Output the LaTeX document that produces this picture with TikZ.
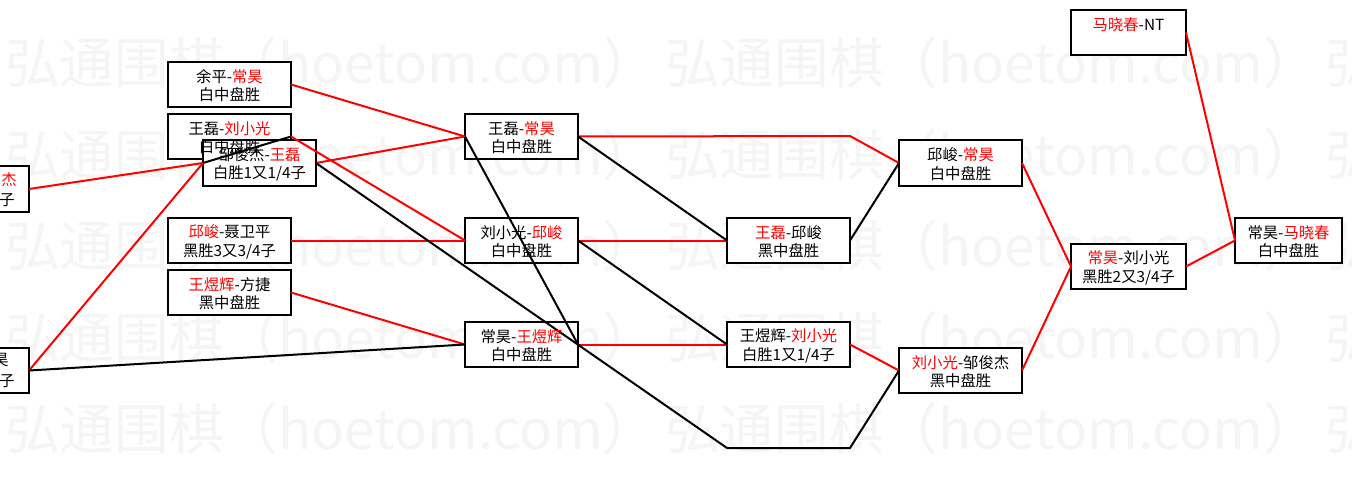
\documentclass[tikz,border=0pt]{standalone}
\usepackage{fontspec}
\newfontfamily\cjk{Noto Sans CJK SC}
\newcommand\rd[1]{\textcolor{red}{#1}}
\newcommand\mkbox[5]{%
  \pgfmathsetmacro\mybw{((#4)-(#2))*0.75}%
  \pgfmathsetmacro\mybh{((#5)-(#3))*0.75}%
  \node[box, minimum width=\mybw pt, minimum height=\mybh pt] (#1) at ({((#2)+(#4))/2},{((#3)+(#5))/2}) {};}
\begin{document}
\begin{tikzpicture}[x=0.75pt,y=-0.75pt,
  box/.style={draw=black, fill=white, line width=2.2pt, inner sep=0pt, outer sep=0pt},
  lbl/.style={font=\cjk\fontsize{11.5}{13.9}\selectfont, align=center, inner sep=0pt, text=black},
  wm/.style={font=\cjk\fontsize{41}{41}\selectfont, text=black!4, inner sep=0pt, anchor=west},
  redln/.style={draw=red, line width=1.5pt},
  blkln/.style={draw=black, line width=1.5pt}]
\useasboundingbox (0,0) rectangle (1352,481);
\clip (0,0) rectangle (1352,481);
\fill[white] (0,0) rectangle (1352,481);
% watermark
\foreach \r in {0,...,4}{
  \foreach \c in {0,1,2}{
    \node[wm] (wm-\r-\c) at ({5+660*\c},{63+91.5*\r}) {弘通围棋（hoetom.com）};
  }
}
% boxes
\mkbox{tl}{-100}{166}{29}{212}
\mkbox{b1}{168}{62}{291}{107}
\mkbox{b2}{168}{114}{291}{159}
\mkbox{b3}{203}{140}{316}{186}
\mkbox{bl}{-100}{348}{29}{393}
\mkbox{b4}{168}{218}{291}{263}
\mkbox{b5}{168}{270}{291}{315}
\mkbox{m1}{465}{114}{578}{159}
\mkbox{m2}{465}{218}{578}{263}
\mkbox{m3}{465}{322}{578}{367}
\mkbox{n1}{727}{218}{850}{263}
\mkbox{n2}{727}{322}{850}{367}
\mkbox{q1}{899}{140}{1022}{186}
\mkbox{q2}{899}{348}{1022}{393}
\mkbox{f1}{1071}{244}{1186}{289}
\mkbox{ma}{1071}{10}{1186}{55}
\mkbox{fin}{1235}{218}{1342}{263}
\coordinate (c1) at (850,136);
\coordinate (c2) at (727,448);
\coordinate (c3) at (850,448);
% red connectors
\draw[redln] (b1.east) -- (m1.west);
\draw[redln] (tl.east) -- (b3.west);
\draw[redln] (b3.east) -- (m1.west);
\draw[redln] (bl.east) -- (b3.west);
\draw[redln] (b4.east) -- (m2.west);
\draw[redln] (b2.east) -- (m2.west);
\draw[redln] (b5.east) -- (m3.west);
\draw[redln] (m1.east) -- (c1) -- (q1.west);
\draw[redln] (m2.east) -- (n1.west);
\draw[redln] (m3.east) -- (n2.west);
\draw[redln] (n2.east) -- (q2.west);
\draw[redln] (q1.east) -- (f1.west);
\draw[redln] (q2.east) -- (f1.west);
\draw[redln] (f1.east) -- (fin.west);
\draw[redln] (ma.east) -- (fin.west);
% black connectors
\draw[blkln] (bl.east) -- (m3.west);
\draw[blkln] (m1.west) -- (m3.east);
\draw[blkln] (m1.east) -- (n1.west);
\draw[blkln] (m2.east) -- (n2.west);
\draw[blkln] (n1.east) -- (q1.west);
\draw[blkln] (b3.east) -- (c2) -- (c3) -- (q2.west);
\draw[blkln] (b2.east) -- (b3.west);
% texts
\node[lbl, anchor=east] (tlt1) at (17,180) {\rd{杰}};
\node[lbl, anchor=east] (tlt2) at (15,200) {子};
\node[lbl, anchor=east] (blt1) at (9,360) {昊};
\node[lbl, anchor=east] (blt2) at (15,381) {子};
\node[lbl, yshift=-0.9pt] (b1t) at (b1.center) {余平-\rd{常昊}\\白中盘胜};
\node[lbl, yshift=-0.9pt] (b2t) at (b2.center) {王磊-\rd{刘小光}\\白中盘胜};
\node[lbl, yshift=-0.9pt] (b3t) at (b3.center) {邹俊杰-\rd{王磊}\\白胜1又1/4子};
\node[lbl, yshift=-0.9pt] (b4t) at (b4.center) {\rd{邱峻}-聂卫平\\黑胜3又3/4子};
\node[lbl, yshift=-0.9pt] (b5t) at (b5.center) {\rd{王煜辉}-方捷\\黑中盘胜};
\node[lbl, yshift=-0.9pt] (m1t) at (m1.center) {王磊-\rd{常昊}\\白中盘胜};
\node[lbl, yshift=-0.9pt] (m2t) at (m2.center) {刘小光-\rd{邱峻}\\白中盘胜};
\node[lbl, yshift=-0.9pt] (m3t) at (m3.center) {常昊-\rd{王煜辉}\\白中盘胜};
\node[lbl, yshift=-0.9pt] (n1t) at (n1.center) {\rd{王磊}-邱峻\\黑中盘胜};
\node[lbl, yshift=-0.9pt] (n2t) at (n2.center) {王煜辉-\rd{刘小光}\\白胜1又1/4子};
\node[lbl, yshift=-0.9pt] (q1t) at (q1.center) {邱峻-\rd{常昊}\\白中盘胜};
\node[lbl, yshift=-0.9pt] (q2t) at (q2.center) {\rd{刘小光}-邹俊杰\\黑中盘胜};
\node[lbl, yshift=-0.9pt] (f1t) at (f1.center) {\rd{常昊}-刘小光\\黑胜2又3/4子};
\node[lbl, yshift=-0.9pt] (fint) at (fin.center) {常昊-\rd{马晓春}\\白中盘胜};
\node[lbl, yshift=5.6pt] (mat) at (ma.center) {\rd{马晓春}-NT};
\end{tikzpicture}
\end{document}
